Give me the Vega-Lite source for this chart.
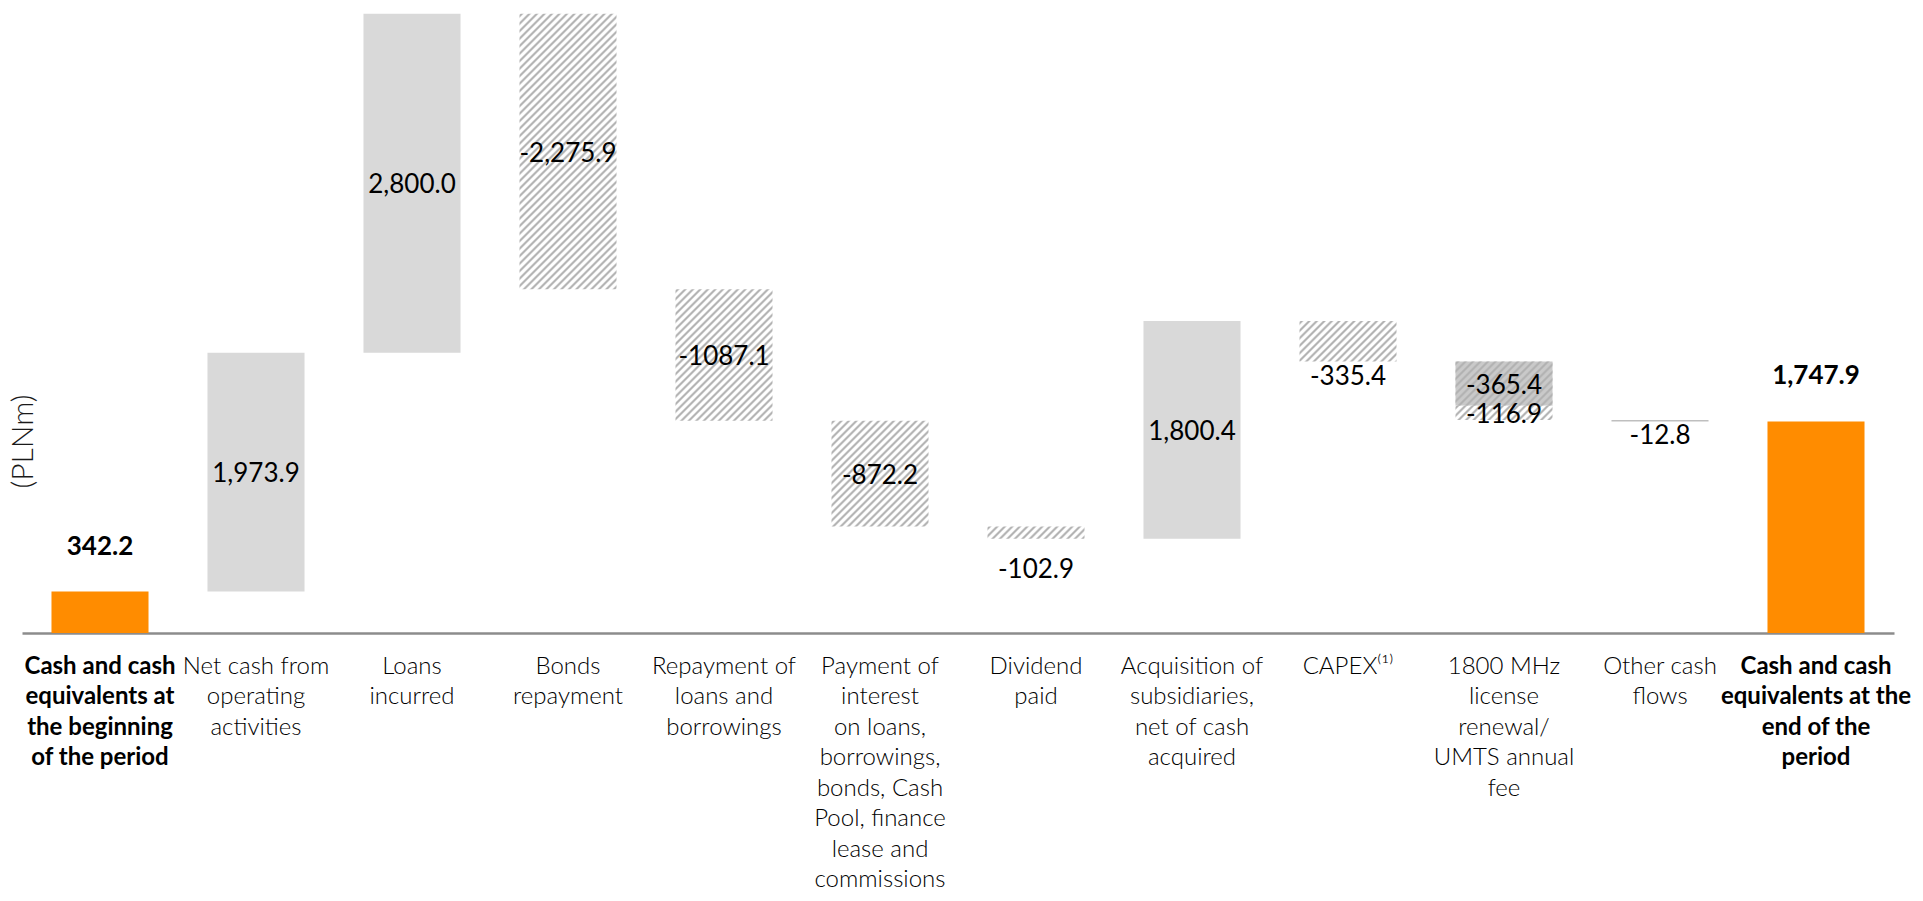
{
"$schema": "https://vega.github.io/schema/vega-lite/v6.json",
"width": 1872,
"height": 633,
"autosize": {"type": "none"},
"padding": {"left": 22, "top": 0, "right": 29, "bottom": 268},
"background": "white",
"config": {"view": {"stroke": null}, "font": "Lato"},
"params": [{"name": "hatch", "value": [
{"offset":0,"color":"#b2b2b200"},{"offset":0.005,"color":"#b2b2b2"},{"offset":0.008,"color":"#b2b2b2"},{"offset":0.013,"color":"#b2b2b200"},
{"offset":0.02,"color":"#b2b2b200"},{"offset":0.025,"color":"#b2b2b2"},{"offset":0.028,"color":"#b2b2b2"},{"offset":0.033,"color":"#b2b2b200"},
{"offset":0.04,"color":"#b2b2b200"},{"offset":0.045,"color":"#b2b2b2"},{"offset":0.048,"color":"#b2b2b2"},{"offset":0.053,"color":"#b2b2b200"},
{"offset":0.06,"color":"#b2b2b200"},{"offset":0.065,"color":"#b2b2b2"},{"offset":0.068,"color":"#b2b2b2"},{"offset":0.073,"color":"#b2b2b200"},
{"offset":0.08,"color":"#b2b2b200"},{"offset":0.085,"color":"#b2b2b2"},{"offset":0.088,"color":"#b2b2b2"},{"offset":0.093,"color":"#b2b2b200"},
{"offset":0.1,"color":"#b2b2b200"},{"offset":0.105,"color":"#b2b2b2"},{"offset":0.108,"color":"#b2b2b2"},{"offset":0.113,"color":"#b2b2b200"},
{"offset":0.12,"color":"#b2b2b200"},{"offset":0.125,"color":"#b2b2b2"},{"offset":0.128,"color":"#b2b2b2"},{"offset":0.133,"color":"#b2b2b200"},
{"offset":0.14,"color":"#b2b2b200"},{"offset":0.145,"color":"#b2b2b2"},{"offset":0.148,"color":"#b2b2b2"},{"offset":0.153,"color":"#b2b2b200"},
{"offset":0.16,"color":"#b2b2b200"},{"offset":0.165,"color":"#b2b2b2"},{"offset":0.168,"color":"#b2b2b2"},{"offset":0.173,"color":"#b2b2b200"},
{"offset":0.18,"color":"#b2b2b200"},{"offset":0.185,"color":"#b2b2b2"},{"offset":0.188,"color":"#b2b2b2"},{"offset":0.193,"color":"#b2b2b200"},
{"offset":0.2,"color":"#b2b2b200"},{"offset":0.205,"color":"#b2b2b2"},{"offset":0.208,"color":"#b2b2b2"},{"offset":0.213,"color":"#b2b2b200"},
{"offset":0.22,"color":"#b2b2b200"},{"offset":0.225,"color":"#b2b2b2"},{"offset":0.228,"color":"#b2b2b2"},{"offset":0.233,"color":"#b2b2b200"},
{"offset":0.24,"color":"#b2b2b200"},{"offset":0.245,"color":"#b2b2b2"},{"offset":0.248,"color":"#b2b2b2"},{"offset":0.253,"color":"#b2b2b200"},
{"offset":0.26,"color":"#b2b2b200"},{"offset":0.265,"color":"#b2b2b2"},{"offset":0.268,"color":"#b2b2b2"},{"offset":0.273,"color":"#b2b2b200"},
{"offset":0.28,"color":"#b2b2b200"},{"offset":0.285,"color":"#b2b2b2"},{"offset":0.288,"color":"#b2b2b2"},{"offset":0.293,"color":"#b2b2b200"},
{"offset":0.3,"color":"#b2b2b200"},{"offset":0.305,"color":"#b2b2b2"},{"offset":0.308,"color":"#b2b2b2"},{"offset":0.313,"color":"#b2b2b200"},
{"offset":0.32,"color":"#b2b2b200"},{"offset":0.325,"color":"#b2b2b2"},{"offset":0.328,"color":"#b2b2b2"},{"offset":0.333,"color":"#b2b2b200"},
{"offset":0.34,"color":"#b2b2b200"},{"offset":0.345,"color":"#b2b2b2"},{"offset":0.348,"color":"#b2b2b2"},{"offset":0.353,"color":"#b2b2b200"},
{"offset":0.36,"color":"#b2b2b200"},{"offset":0.365,"color":"#b2b2b2"},{"offset":0.368,"color":"#b2b2b2"},{"offset":0.373,"color":"#b2b2b200"},
{"offset":0.38,"color":"#b2b2b200"},{"offset":0.385,"color":"#b2b2b2"},{"offset":0.388,"color":"#b2b2b2"},{"offset":0.393,"color":"#b2b2b200"},
{"offset":0.4,"color":"#b2b2b200"},{"offset":0.405,"color":"#b2b2b2"},{"offset":0.408,"color":"#b2b2b2"},{"offset":0.413,"color":"#b2b2b200"},
{"offset":0.42,"color":"#b2b2b200"},{"offset":0.425,"color":"#b2b2b2"},{"offset":0.428,"color":"#b2b2b2"},{"offset":0.433,"color":"#b2b2b200"},
{"offset":0.44,"color":"#b2b2b200"},{"offset":0.445,"color":"#b2b2b2"},{"offset":0.448,"color":"#b2b2b2"},{"offset":0.453,"color":"#b2b2b200"},
{"offset":0.46,"color":"#b2b2b200"},{"offset":0.465,"color":"#b2b2b2"},{"offset":0.468,"color":"#b2b2b2"},{"offset":0.473,"color":"#b2b2b200"},
{"offset":0.48,"color":"#b2b2b200"},{"offset":0.485,"color":"#b2b2b2"},{"offset":0.488,"color":"#b2b2b2"},{"offset":0.493,"color":"#b2b2b200"},
{"offset":0.5,"color":"#b2b2b200"},{"offset":0.505,"color":"#b2b2b2"},{"offset":0.508,"color":"#b2b2b2"},{"offset":0.513,"color":"#b2b2b200"},
{"offset":0.52,"color":"#b2b2b200"},{"offset":0.525,"color":"#b2b2b2"},{"offset":0.528,"color":"#b2b2b2"},{"offset":0.533,"color":"#b2b2b200"},
{"offset":0.54,"color":"#b2b2b200"},{"offset":0.545,"color":"#b2b2b2"},{"offset":0.548,"color":"#b2b2b2"},{"offset":0.553,"color":"#b2b2b200"},
{"offset":0.56,"color":"#b2b2b200"},{"offset":0.565,"color":"#b2b2b2"},{"offset":0.568,"color":"#b2b2b2"},{"offset":0.573,"color":"#b2b2b200"},
{"offset":0.58,"color":"#b2b2b200"},{"offset":0.585,"color":"#b2b2b2"},{"offset":0.588,"color":"#b2b2b2"},{"offset":0.593,"color":"#b2b2b200"},
{"offset":0.6,"color":"#b2b2b200"},{"offset":0.605,"color":"#b2b2b2"},{"offset":0.608,"color":"#b2b2b2"},{"offset":0.613,"color":"#b2b2b200"},
{"offset":0.62,"color":"#b2b2b200"},{"offset":0.625,"color":"#b2b2b2"},{"offset":0.628,"color":"#b2b2b2"},{"offset":0.633,"color":"#b2b2b200"},
{"offset":0.64,"color":"#b2b2b200"},{"offset":0.645,"color":"#b2b2b2"},{"offset":0.648,"color":"#b2b2b2"},{"offset":0.653,"color":"#b2b2b200"},
{"offset":0.66,"color":"#b2b2b200"},{"offset":0.665,"color":"#b2b2b2"},{"offset":0.668,"color":"#b2b2b2"},{"offset":0.673,"color":"#b2b2b200"},
{"offset":0.68,"color":"#b2b2b200"},{"offset":0.685,"color":"#b2b2b2"},{"offset":0.688,"color":"#b2b2b2"},{"offset":0.693,"color":"#b2b2b200"},
{"offset":0.7,"color":"#b2b2b200"},{"offset":0.705,"color":"#b2b2b2"},{"offset":0.708,"color":"#b2b2b2"},{"offset":0.713,"color":"#b2b2b200"},
{"offset":0.72,"color":"#b2b2b200"},{"offset":0.725,"color":"#b2b2b2"},{"offset":0.728,"color":"#b2b2b2"},{"offset":0.733,"color":"#b2b2b200"},
{"offset":0.74,"color":"#b2b2b200"},{"offset":0.745,"color":"#b2b2b2"},{"offset":0.748,"color":"#b2b2b2"},{"offset":0.753,"color":"#b2b2b200"},
{"offset":0.76,"color":"#b2b2b200"},{"offset":0.765,"color":"#b2b2b2"},{"offset":0.768,"color":"#b2b2b2"},{"offset":0.773,"color":"#b2b2b200"},
{"offset":0.78,"color":"#b2b2b200"},{"offset":0.785,"color":"#b2b2b2"},{"offset":0.788,"color":"#b2b2b2"},{"offset":0.793,"color":"#b2b2b200"},
{"offset":0.8,"color":"#b2b2b200"},{"offset":0.805,"color":"#b2b2b2"},{"offset":0.808,"color":"#b2b2b2"},{"offset":0.813,"color":"#b2b2b200"},
{"offset":0.82,"color":"#b2b2b200"},{"offset":0.825,"color":"#b2b2b2"},{"offset":0.828,"color":"#b2b2b2"},{"offset":0.833,"color":"#b2b2b200"},
{"offset":0.84,"color":"#b2b2b200"},{"offset":0.845,"color":"#b2b2b2"},{"offset":0.848,"color":"#b2b2b2"},{"offset":0.853,"color":"#b2b2b200"},
{"offset":0.86,"color":"#b2b2b200"},{"offset":0.865,"color":"#b2b2b2"},{"offset":0.868,"color":"#b2b2b2"},{"offset":0.873,"color":"#b2b2b200"},
{"offset":0.88,"color":"#b2b2b200"},{"offset":0.885,"color":"#b2b2b2"},{"offset":0.888,"color":"#b2b2b2"},{"offset":0.893,"color":"#b2b2b200"},
{"offset":0.9,"color":"#b2b2b200"},{"offset":0.905,"color":"#b2b2b2"},{"offset":0.908,"color":"#b2b2b2"},{"offset":0.913,"color":"#b2b2b200"},
{"offset":0.92,"color":"#b2b2b200"},{"offset":0.925,"color":"#b2b2b2"},{"offset":0.928,"color":"#b2b2b2"},{"offset":0.933,"color":"#b2b2b200"},
{"offset":0.94,"color":"#b2b2b200"},{"offset":0.945,"color":"#b2b2b2"},{"offset":0.948,"color":"#b2b2b2"},{"offset":0.953,"color":"#b2b2b200"},
{"offset":0.96,"color":"#b2b2b200"},{"offset":0.965,"color":"#b2b2b2"},{"offset":0.968,"color":"#b2b2b2"},{"offset":0.973,"color":"#b2b2b200"},
{"offset":0.98,"color":"#b2b2b200"},{"offset":0.985,"color":"#b2b2b2"},{"offset":0.988,"color":"#b2b2b2"},{"offset":0.993,"color":"#b2b2b200"},
{"offset":1,"color":"#b2b2b200"}
]}],
"data": {"values": [
{"cat": "Cash and cash|equivalents at|the beginning|of the period", "kind": "total", "from": 0, "to": 342.2, "value": 342.2, "label": "342.2"},
{"cat": "Net cash from|operating|activities", "kind": "increase", "from": 342.2, "to": 2316.1, "value": 1973.9, "label": "1,973.9"},
{"cat": "Loans|incurred", "kind": "increase", "from": 2316.1, "to": 5116.1, "value": 2800.0, "label": "2,800.0"},
{"cat": "Bonds|repayment", "kind": "decrease", "from": 5116.1, "to": 2840.2, "value": -2275.9, "label": "-2,275.9"},
{"cat": "Repayment of|loans and|borrowings", "kind": "decrease", "from": 2840.2, "to": 1753.1, "value": -1087.1, "label": "-1087.1"},
{"cat": "Payment of|interest|on loans,|borrowings,|bonds, Cash|Pool, finance|lease and|commissions", "kind": "decrease", "from": 1753.1, "to": 880.9, "value": -872.2, "label": "-872.2"},
{"cat": "Dividend|paid", "kind": "decrease", "from": 880.9, "to": 778.0, "value": -102.9, "label": "-102.9"},
{"cat": "Acquisition of|subsidiaries,|net of cash|acquired", "kind": "increase", "from": 778.0, "to": 2578.4, "value": 1800.4, "label": "1,800.4"},
{"cat": "CAPEX⁽¹⁾", "kind": "decrease", "from": 2578.4, "to": 2243.0, "value": -335.4, "label": "-335.4"},
{"cat": "1800 MHz|license|renewal/|UMTS annual|fee", "kind": "license", "from": 2243.0, "to": 1877.6, "value": -365.4, "label": "-365.4"},
{"cat": "1800 MHz|license|renewal/|UMTS annual|fee", "kind": "decrease", "from": 1877.6, "to": 1760.7, "value": -116.9, "label": "-116.9"},
{"cat": "Other cash|flows", "kind": "other", "from": 1760.7, "to": 1747.9, "value": -12.8, "label": "-12.8"},
{"cat": "Cash and cash|equivalents at the|end of the|period", "kind": "total", "from": 0, "to": 1747.9, "value": 1747.9, "label": "1,747.9"}
]},
"transform": [
{"calculate": "(datum.from + datum.to) / 2", "as": "mid"},
{"calculate": "min(datum.from, datum.to)", "as": "lo"},
{"calculate": "max(datum.from, datum.to)", "as": "hi"},
{"calculate": "abs(datum.to - datum.from) * 633 / 5230", "as": "hpx"},
{"calculate": "{gradient: 'linear', x1: 0, y1: 0, x2: 375 * 97 / (9409 + datum.hpx * datum.hpx), y2: 375 * datum.hpx / (9409 + datum.hpx * datum.hpx), stops: hatch}", "as": "grad"}
],
"encoding": {
"x": {"field": "cat", "type": "nominal", "sort": null,
 "scale": {"paddingInner": 0.378, "paddingOuter": 0.189},
 "axis": {"title": null, "ticks": false, "tickSize": 0, "domainColor": "#8c8c8c", "domainWidth": 2.5,
  "labelExpr": "split(datum.value, '|')", "labelAngle": 0, "labelFont": "Lato", "labelFontSize": 24,
  "labelLineHeight": 30.5, "labelColor": "#000000", "labelPadding": 21, "labelBaseline": "top",
  "labelLimit": 400, "labelOverlap": false, "labelBound": false, "labelFlush": false,
  "labelFontWeight": {"condition": {"test": "indexof(datum.value, 'Cash and cash') == 0", "value": "bold"}, "value": 300}}}
},
"layer": [
{"mark": {"type": "bar"},
 "encoding": {
  "y": {"field": "from", "type": "quantitative", "scale": {"domain": [0, 5230], "nice": false, "zero": true},
   "axis": {"title": "(PLNm)", "labels": false, "ticks": false, "domain": false, "grid": false,
    "titleX": 1, "titleY": 441, "titleAngle": -90, "titleAlign": "center", "titleBaseline": "middle",
    "titleFont": "Lato", "titleFontSize": 30, "titleFontWeight": 300, "titleColor": "#1a1a1a"}},
  "y2": {"field": "to"},
  "color": {"field": "kind", "type": "nominal", "legend": null,
   "scale": {"domain": ["total", "increase", "decrease", "license", "other"], "range": ["#ff8c00", "#d9d9d9", "#ffffff", "#c9c9c9", "#bfbfbf"]}}
 }},
{"transform": [{"filter": "datum.kind == 'decrease' || datum.kind == 'license'"}],
 "mark": {"type": "bar"},
 "encoding": {
  "y": {"field": "from", "type": "quantitative", "scale": {"domain": [0, 5230], "nice": false, "zero": true},
   "axis": {"title": "(PLNm)", "labels": false, "ticks": false, "domain": false, "grid": false,
    "titleX": 1, "titleY": 441, "titleAngle": -90, "titleAlign": "center", "titleBaseline": "middle",
    "titleFont": "Lato", "titleFontSize": 30, "titleFontWeight": 300, "titleColor": "#1a1a1a"}},
  "y2": {"field": "to"},
  "fill": {"field": "grad", "type": "nominal", "scale": null, "legend": null}
 }},
{"transform": [{"filter": "datum.kind != 'total' && !test(/^(Dividend|CAPEX|Other)/, datum.cat)"}],
 "mark": {"type": "text", "font": "Lato", "fontSize": 26, "color": "#000000", "baseline": "middle", "dy": 2},
 "encoding": {
  "y": {"field": "mid", "type": "quantitative", "scale": {"domain": [0, 5230], "nice": false, "zero": true},
   "axis": {"title": "(PLNm)", "labels": false, "ticks": false, "domain": false, "grid": false,
    "titleX": 1, "titleY": 441, "titleAngle": -90, "titleAlign": "center", "titleBaseline": "middle",
    "titleFont": "Lato", "titleFontSize": 30, "titleFontWeight": 300, "titleColor": "#1a1a1a"}},
  "text": {"field": "label"}
 }},
{"transform": [{"filter": "test(/^(CAPEX|Other)/, datum.cat)"}],
 "mark": {"type": "text", "font": "Lato", "fontSize": 26, "color": "#000000", "baseline": "middle", "dy": 15},
 "encoding": {
  "y": {"field": "lo", "type": "quantitative", "scale": {"domain": [0, 5230], "nice": false, "zero": true},
   "axis": {"title": "(PLNm)", "labels": false, "ticks": false, "domain": false, "grid": false,
    "titleX": 1, "titleY": 441, "titleAngle": -90, "titleAlign": "center", "titleBaseline": "middle",
    "titleFont": "Lato", "titleFontSize": 30, "titleFontWeight": 300, "titleColor": "#1a1a1a"}},
  "text": {"field": "label"}
 }},
{"transform": [{"filter": "test(/^Dividend/, datum.cat)"}],
 "mark": {"type": "text", "font": "Lato", "fontSize": 26, "color": "#000000", "baseline": "middle", "dy": 31},
 "encoding": {
  "y": {"field": "lo", "type": "quantitative", "scale": {"domain": [0, 5230], "nice": false, "zero": true},
   "axis": {"title": "(PLNm)", "labels": false, "ticks": false, "domain": false, "grid": false,
    "titleX": 1, "titleY": 441, "titleAngle": -90, "titleAlign": "center", "titleBaseline": "middle",
    "titleFont": "Lato", "titleFontSize": 30, "titleFontWeight": 300, "titleColor": "#1a1a1a"}},
  "text": {"field": "label"}
 }},
{"transform": [{"filter": "datum.kind == 'total'"}],
 "mark": {"type": "text", "font": "Lato", "fontSize": 26, "fontWeight": "bold", "color": "#000000", "baseline": "middle", "dy": -45},
 "encoding": {
  "y": {"field": "hi", "type": "quantitative", "scale": {"domain": [0, 5230], "nice": false, "zero": true},
   "axis": {"title": "(PLNm)", "labels": false, "ticks": false, "domain": false, "grid": false,
    "titleX": 1, "titleY": 441, "titleAngle": -90, "titleAlign": "center", "titleBaseline": "middle",
    "titleFont": "Lato", "titleFontSize": 30, "titleFontWeight": 300, "titleColor": "#1a1a1a"}},
  "text": {"field": "label"}
 }}
]
}
